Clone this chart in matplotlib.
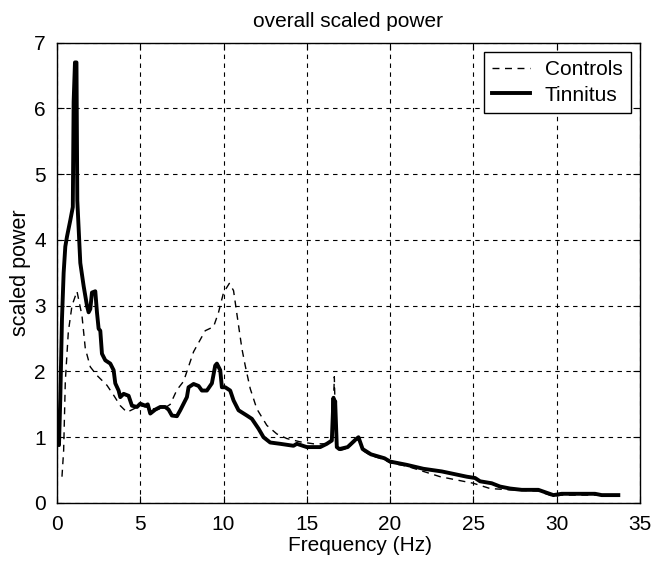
import matplotlib
matplotlib.use("Agg")
import matplotlib.pyplot as plt

plt.rcParams['font.family'] = ['Liberation Sans', 'DejaVu Sans']

# Tinnitus group (thick solid)
tin_f = [0.05, 0.12, 0.2, 0.3, 0.4, 0.5, 0.6, 0.8, 0.95, 1.0, 1.08, 1.17, 1.22,
         1.4, 1.6, 1.8, 1.9, 2.0, 2.1, 2.3, 2.4, 2.5, 2.6, 2.7, 2.9, 3.2, 3.4, 3.5,
         3.7, 3.8, 4.0, 4.3, 4.5, 4.8, 5.0, 5.3, 5.45, 5.6, 5.9, 6.2, 6.5, 6.7, 6.9,
         7.2, 7.4, 7.6, 7.8, 7.9, 8.2, 8.5, 8.7, 9.0, 9.3, 9.5, 9.6, 9.8, 9.9, 10.1,
         10.4, 10.6, 10.9, 11.4, 11.7, 12.1, 12.4, 12.8, 13.4, 14.2, 14.4, 15.0, 15.8,
         16.2, 16.5, 16.6, 16.65, 16.7, 16.8, 16.95, 17.45, 17.95, 18.1, 18.35, 18.85,
         19.66, 20.0, 21.0, 22.0, 23.1, 24.6, 25.1, 25.4, 26.1, 26.6, 27.2, 27.9,
         28.9, 29.8, 30.3, 32.3, 32.7, 33.7]
tin_p = [1.0, 0.88, 1.6, 2.8, 3.5, 3.9, 4.05, 4.3, 4.5, 6.1, 6.7, 6.7, 4.6,
         3.65, 3.3, 3.0, 2.9, 2.95, 3.2, 3.22, 2.9, 2.65, 2.62, 2.27, 2.17, 2.12, 2.02, 1.82,
         1.71, 1.61, 1.66, 1.63, 1.48, 1.46, 1.51, 1.48, 1.5, 1.36, 1.42, 1.46, 1.46, 1.42, 1.33,
         1.32, 1.41, 1.51, 1.61, 1.76, 1.81, 1.78, 1.71, 1.71, 1.82, 2.09, 2.12, 2.02, 1.76, 1.76,
         1.71, 1.56, 1.41, 1.33, 1.28, 1.13, 1.0, 0.92, 0.9, 0.87, 0.9, 0.85, 0.85,
         0.9, 0.95, 1.6, 1.2, 1.55, 0.85, 0.82, 0.85, 0.97, 1.0, 0.82, 0.74,
         0.68, 0.63, 0.58, 0.52, 0.48, 0.4, 0.38, 0.33, 0.3, 0.25, 0.22, 0.2,
         0.2, 0.12, 0.14, 0.14, 0.12, 0.12]

# Control group (thin dashed)
con_f = [0.3, 0.4, 0.5, 0.68, 0.9, 1.2, 1.5, 1.7, 2.0, 2.4, 3.0, 3.4, 3.8, 4.2, 4.6,
         5.0, 5.5, 6.0, 6.5, 6.8, 7.2, 7.6, 7.8, 8.2, 8.9, 9.4, 9.7, 10.0, 10.35, 10.6,
         10.9, 11.1, 11.3, 11.6, 12.0, 12.6, 13.2, 13.8, 14.6, 15.4, 16.2, 16.55, 16.65,
         16.75, 17.0, 17.45, 17.95, 18.1, 18.35, 18.85, 19.66, 20.0, 21.0, 22.0, 23.0,
         25.0, 26.0, 27.2, 28.9, 29.8, 30.3, 32.3, 33.7]
con_p = [0.4, 0.8, 1.85, 2.6, 3.0, 3.22, 2.85, 2.35, 2.07, 1.94, 1.79, 1.64, 1.48, 1.38, 1.43,
         1.48, 1.45, 1.42, 1.45, 1.5, 1.72, 1.85, 2.0, 2.3, 2.62, 2.68, 2.9, 3.2, 3.34, 3.23,
         2.7, 2.35, 2.09, 1.74, 1.43, 1.18, 1.05, 0.98, 0.93, 0.9, 0.9, 1.0, 1.92,
         0.9, 0.8, 0.83, 0.95, 0.98, 0.8, 0.72, 0.66, 0.61, 0.56, 0.48, 0.4,
         0.3, 0.22, 0.2, 0.18, 0.1, 0.12, 0.12, 0.1]

fig = plt.figure(figsize=(6.58, 5.61), dpi=100)
ax = fig.add_axes([0.0866, 0.1034, 0.886, 0.8205])

ax.plot(con_f, con_p, color='black', linestyle=(0, (5, 4)), linewidth=1.0, label='Controls')
ax.plot(tin_f, tin_p, color='black', linewidth=2.8, solid_joinstyle='round', label='Tinnitus')

ax.set_xlim(0, 35)
ax.set_ylim(0, 7)
ax.set_xticks(range(0, 36, 5))
ax.set_yticks(range(0, 8))
ax.grid(True, color='black', linestyle=(0, (4, 4)), linewidth=0.8)
ax.tick_params(direction='in', top=True, right=True, labelsize=15, length=5)
ax.tick_params(axis='x', pad=9)
ax.tick_params(axis='y', pad=8)
for s in ax.spines.values():
    s.set_linewidth(1.0)

ax.set_title("overall scaled power", fontsize=15, pad=11)
ax.set_xlabel("Frequency (Hz)", fontsize=15)
ax.xaxis.set_label_coords(0.52, -0.072)
ax.set_ylabel("scaled power", fontsize=15.5, labelpad=2)

leg = ax.legend(loc='upper right', fontsize=15, fancybox=False, framealpha=1,
                edgecolor='black', handlelength=1.8, handletextpad=0.7,
                labelspacing=0.3, borderpad=0.4, borderaxespad=0.45)
leg.get_frame().set_linewidth(1.0)

plt.savefig("out.png")
